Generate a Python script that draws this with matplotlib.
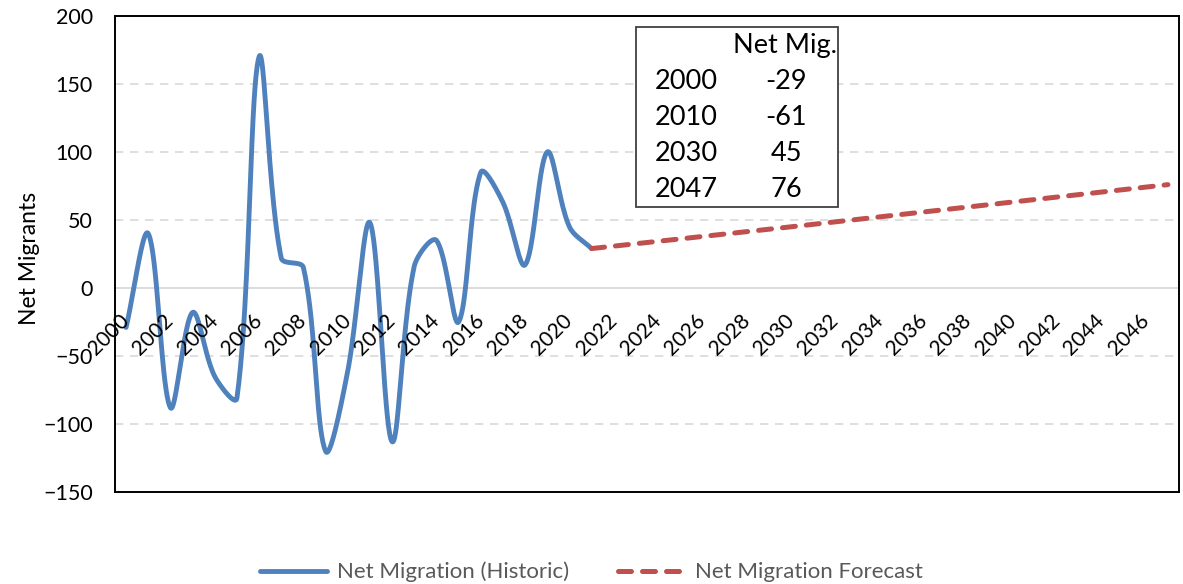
import numpy as np
import matplotlib
matplotlib.use("Agg")
import matplotlib.pyplot as plt
from matplotlib.patches import Rectangle

# historic net migration
hist_years = list(range(2000, 2022))
hist_values = [-29, 40, -88, -18, -65, -81, 170, 22, 15, -120, -61,
               48, -113, 16, 35, -25, 85, 63, 17, 100, 45, 29]

# forecast line
fc_years = [2021, 2030, 2047]
fc_values = [29, 45, 76]

# summary table in the chart
table_years = ["2000", "2010", "2030", "2047"]
table_values = ["-29", "-61", "45", "76"]

tick_years = list(range(2000, 2047, 2))

BLUE = "#4F81BD"
RED = "#C0504D"
plt.rcParams["font.family"] = ["Lato", "DejaVu Sans"]


def smooth(xs, ys, sx=22.1, sy=1.36, t=1 / 3, n=40):
    # bezier smoothing like Excel's "smoothed line": tangents weighted by
    # segment length on screen (sx, sy = pixels per data unit)
    p = np.column_stack([np.asarray(xs, float) * sx, np.asarray(ys, float) * sy])
    m = len(p)
    c_in = p.copy()
    c_out = p.copy()
    for i in range(m):
        a = p[max(i - 1, 0)]
        b = p[min(i + 1, m - 1)]
        d0 = np.hypot(*(p[i] - a))
        d1 = np.hypot(*(b - p[i]))
        if d0 + d1 == 0:
            continue
        c_in[i] = p[i] - t * d0 / (d0 + d1) * (b - a)
        c_out[i] = p[i] + t * d1 / (d0 + d1) * (b - a)
    u = np.linspace(0, 1, n, endpoint=False)[:, None]
    pts = []
    for i in range(m - 1):
        p1, c1, c2, p2 = p[i], c_out[i], c_in[i + 1], p[i + 1]
        pts.append((1 - u) ** 3 * p1 + 3 * (1 - u) ** 2 * u * c1 + 3 * (1 - u) * u ** 2 * c2 + u ** 3 * p2)
    pts.append(p[-1][None, :])
    pts = np.vstack(pts)
    return pts[:, 0] / sx, pts[:, 1] / sy


W, H = 1183, 584
fig = plt.figure(figsize=(W / 100, H / 100), dpi=100)
ax = fig.add_axes([115 / W, 1 - 492 / H, (1179 - 115) / W, (492 - 16) / H])

ax.set_xlim(1999.5, 2047.5)
ax.set_ylim(-150, 200)
ax.set_yticks(range(-150, 201, 50))

for y in range(-100, 151, 50):
    if y == 0:
        ax.axhline(0, color="#D9D9D9", lw=1.3, zorder=1)
    else:
        ax.axhline(y, color="#D9D9D9", lw=1.2, ls=(0, (5, 4)), zorder=1)

hx, hy = smooth(hist_years, hist_values)
ax.plot(hx, hy, color=BLUE, lw=3.5, solid_capstyle="round", solid_joinstyle="round",
        label="Net Migration (Historic)", zorder=3)
ax.plot(fc_years, fc_values, color=RED, lw=3.6, dashes=(2.6, 2.2), dash_capstyle="round",
        label="Net Migration Forecast", zorder=3)

for s in ax.spines.values():
    s.set_color("black")
    s.set_linewidth(1.4)

ax.set_xticks([])
ax.tick_params(axis="y", length=0, labelsize=15.5, pad=16)

# rotated year labels sitting under the zero line
for yr in tick_years:
    ax.annotate(str(yr), xy=(yr, 0), xytext=(0, -21), textcoords="offset points",
                rotation=45, rotation_mode="anchor", ha="right", va="center",
                fontsize=15, color="black", zorder=4)

ax.set_ylabel("Net Migrants", fontsize=16.5)
ax.yaxis.set_label_coords(-0.0705, 0.49)

# table box
fig.patches.append(Rectangle((636 / W, 1 - 207 / H), (838 - 636) / W, (207 - 27) / H,
                             transform=fig.transFigure, facecolor="white",
                             edgecolor="#404040", lw=1.3, zorder=5))
fig.text(837 / W, 1 - 46 / H, "Net Mig.", ha="right", va="center", fontsize=19.5, zorder=6)
for i, (ty, tv) in enumerate(zip(table_years, table_values)):
    yy = 1 - (81 + i * 36.3) / H
    fig.text(655 / W, yy, ty, ha="left", va="center", fontsize=19.5, zorder=6)
    fig.text(786 / W, yy, tv, ha="center", va="center", fontsize=19.5, zorder=6)

fig.legend(loc="center", bbox_to_anchor=(0.5, 1 - 572 / H), ncol=2, frameon=False,
           fontsize=16, labelcolor="#595959", handlelength=3.0, handletextpad=0.45,
           columnspacing=2.2)

fig.savefig("out.png", dpi=100)
